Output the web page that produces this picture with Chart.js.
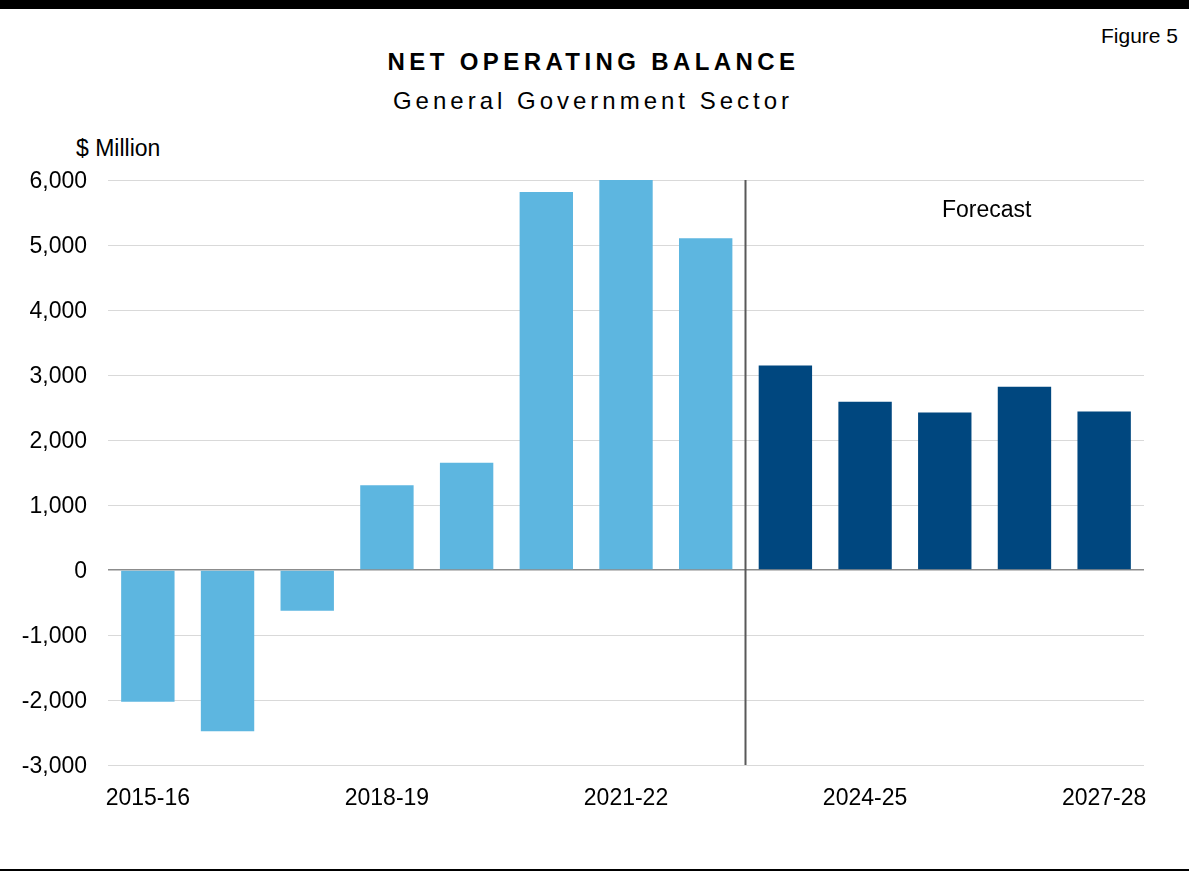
<!DOCTYPE html>
<html>
<head>
<meta charset="utf-8">
<title>Net Operating Balance</title>
<script src="https://cdn.jsdelivr.net/npm/chart.js@4/dist/chart.umd.min.js"></script>
<style>
  html, body { margin: 0; padding: 0; background: #fff; }
  #page { position: relative; width: 1189px; height: 872px; overflow: hidden;
          font-family: "Liberation Sans", Arial, Helvetica, sans-serif; color: #000; }
  #topbar { position: absolute; left: 0; top: 0; width: 1189px; height: 9px; background: #000; }
  #bottomline { position: absolute; left: 0; top: 869px; width: 1189px; height: 2px; background: #000; }
  .txt { position: absolute; white-space: nowrap; line-height: 30px; }
  #fig { right: 11px; top: 21px; font-size: 21px; }
  #title { left: 0; width: 1189px; text-align: center; top: 47px; font-size: 24px; font-weight: bold; letter-spacing: 4.4px; text-indent: -2px; }
  #subtitle { left: 0; width: 1189px; text-align: center; top: 86px; font-size: 24px; letter-spacing: 4px; text-indent: -3px; }
  #unit { left: 76px; top: 133px; font-size: 23px; }
  #chart { position: absolute; left: 0; top: 0; }
</style>
</head>
<body>
<div id="page">
  <div id="topbar"></div>
  <div class="txt" id="fig">Figure 5</div>
  <div class="txt" id="title">NET OPERATING BALANCE</div>
  <div class="txt" id="subtitle">General Government Sector</div>
  <div class="txt" id="unit">$ Million</div>
  <canvas id="chart" width="1189" height="872"></canvas>
  <div id="bottomline"></div>
</div>
<script>
// Financial years
const years = ['2015-16', '2016-17', '2017-18', '2018-19', '2019-20', '2020-21', '2021-22',
               '2022-23', '2023-24', '2024-25', '2025-26', '2026-27', '2027-28'];
// Net operating balance, $ million: actual results, then forecast years
const actualValues = [-2025, -2480, -625, 1305, 1650, 5815, 6000, 5105];
const forecastValues = [3145, 2590, 2425, 2820, 2440];
// Y axis range and step ($ million)
const yTicks = { min: -3000, max: 6000, step: 1000 };
const forecastLabel = 'Forecast';

const values = actualValues.concat(forecastValues);
const FONT = '"Liberation Sans", Arial, Helvetica, sans-serif';
const ACTUAL_COLOR = '#5DB6E0';
const FORECAST_COLOR = '#00477F';

// Divider between actuals and forecast, plus the "Forecast" caption
const forecastDivider = {
  id: 'forecastDivider',
  afterDatasetsDraw(chart) {
    const { ctx, chartArea, scales: { x } } = chart;
    const n = actualValues.length;
    const xLine = Math.round((x.getPixelForValue(n - 1) + x.getPixelForValue(n)) / 2) - 0.5;
    ctx.save();
    ctx.strokeStyle = '#595959';
    ctx.lineWidth = 2;
    ctx.beginPath();
    ctx.moveTo(xLine, chartArea.top);
    ctx.lineTo(xLine, chartArea.bottom);
    ctx.stroke();
    const xText = (x.getPixelForValue(n + 2) + x.getPixelForValue(n + 3)) / 2 + 2;
    ctx.fillStyle = '#000';
    ctx.font = '23px ' + FONT;
    ctx.textAlign = 'center';
    ctx.textBaseline = 'middle';
    ctx.fillText(forecastLabel, xText, chartArea.top + 31);
    ctx.restore();
  }
};

new Chart(document.getElementById('chart'), {
  type: 'bar',
  data: {
    labels: years,
    datasets: [{
      data: values,
      backgroundColor: (c) => c.dataIndex < actualValues.length ? ACTUAL_COLOR : FORECAST_COLOR,
      borderWidth: 0,
      barPercentage: 0.67,
      categoryPercentage: 1.0
    }]
  },
  options: {
    responsive: false,
    animation: false,
    devicePixelRatio: 1,
    layout: { padding: { top: 180, right: 45, left: 0, bottom: 0 } },
    plugins: { legend: { display: false }, tooltip: { enabled: false }, title: { display: false } },
    scales: {
      x: {
        grid: { display: false, drawTicks: false },
        border: { display: false },
        ticks: {
          autoSkip: false,
          maxRotation: 0,
          padding: 20,
          color: '#000',
          font: { family: FONT, size: 23 },
          callback: (v, i) => (i % 3 === 0 ? years[i] : '')
        },
        afterFit: (s) => { s.height = 107; }
      },
      y: {
        min: yTicks.min,
        max: yTicks.max,
        grid: {
          drawTicks: false,
          color: (c) => (c.tick && c.tick.value === 0 ? '#8c8c8c' : '#d9d9d9'),
          lineWidth: (c) => (c.tick && c.tick.value === 0 ? 1.5 : 1)
        },
        border: { display: false },
        ticks: {
          stepSize: yTicks.step,
          padding: 21,
          labelOffset: 2,
          color: '#000',
          font: { family: FONT, size: 23 },
          callback: (v) => v.toLocaleString('en-US')
        },
        afterFit: (s) => { s.width = 108; }
      }
    }
  },
  plugins: [forecastDivider]
});
</script>
</body>
</html>
